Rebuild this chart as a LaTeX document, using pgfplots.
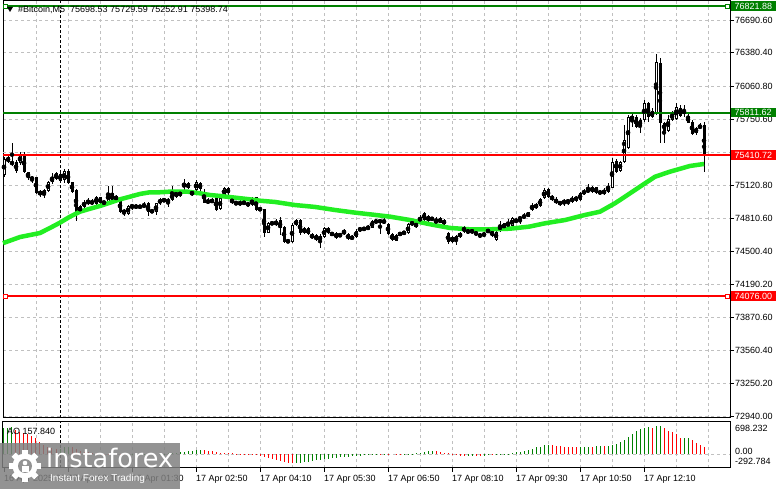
\documentclass[border=0pt]{standalone}
\usepackage{pgfplots}
\pgfplotsset{compat=1.18}
\usepackage{pgfplotstable}
\usepackage{fontspec}
\setmainfont{Liberation Sans}
\newfontfamily\dejavu{DejaVu Sans}
\definecolor{mtgreen}{RGB}{0,128,0}
\definecolor{mtred}{RGB}{255,0,0}
\definecolor{malime}{RGB}{34,238,34}
\definecolor{gridgray}{RGB}{192,192,192}
\definecolor{logogray}{RGB}{147,147,147}
\newcommand{\lbl}{\fontsize{9pt}{10pt}\selectfont}

\pgfplotstableread{
i o h l c
0 75223 75397 75207 75371
1 75349 75403 75333 75390
2 75349 75523 75308 75324
3 75343 75365 75239 75264
4 75333 75444 75317 75412
5 75412 75444 75239 75255
6 75248 75255 75175 75198
7 75207 75213 75144 75175
8 75201 75207 75043 75056
9 75071 75081 75018 75033
10 75033 75087 75002 75081
11 75071 75169 75062 75156
12 75153 75239 75137 75207
13 75182 75255 75175 75239
14 75229 75245 75160 75169
15 75175 75277 75144 75264
16 75264 75277 75137 75144
17 75153 75160 75056 75065
18 75081 75087 74790 74876
19 74876 74938 74860 74929
20 74923 74986 74907 74970
21 74948 75002 74938 74986
22 74976 74992 74938 74948
23 74948 75024 74938 75018
24 74954 75018 74948 75011
25 74970 74980 74938 74954
26 74970 75118 74961 75049
27 75049 75118 74954 74970
28 74986 75033 74980 75024
29 74986 75002 74860 74876
30 74891 74898 74834 74860
31 74853 74938 74844 74929
32 74916 74948 74891 74938
33 74929 74948 74904 74916
34 74919 74938 74907 74926
35 74916 74970 74907 74948
36 74961 74970 74834 74876
37 74885 74898 74860 74876
38 74872 74961 74844 74954
39 74954 75005 74938 74992
40 74980 75002 74970 74989
41 74986 75002 74923 74970
42 74986 75118 74980 75049
43 75065 75074 75002 75018
44 75037 75065 75018 75052
45 75112 75182 75065 75150
46 75150 75160 75087 75097
47 75065 75081 75024 75033
48 75081 75175 75065 75160
49 75150 75160 75074 75087
50 75065 75087 74954 74961
51 74986 75002 74948 74954
52 74961 75002 74954 74992
53 75002 75018 74885 74891
54 74898 75018 74891 75002
55 75033 75112 75018 75097
56 75097 75106 75033 75049
57 74992 75011 74948 74961
58 74948 74980 74938 74961
59 74961 74986 74929 74948
60 74954 74970 74948 74964
61 74961 74970 74923 74929
62 74938 75011 74929 74992
63 75011 75018 74885 74891
64 74907 74916 74885 74891
65 74898 74904 74632 74677
66 74677 74781 74670 74765
67 74762 74781 74749 74771
68 74749 74803 74740 74787
69 74796 74828 74654 74718
70 74733 74740 74581 74591
71 74607 74613 74575 74585
72 74591 74765 74581 74749
73 74749 74803 74740 74796
74 74796 74803 74654 74670
75 74670 74733 74664 74724
76 74718 74727 74654 74664
77 74664 74670 74613 74623
78 74654 74664 74600 74607
79 74607 74664 74528 74645
80 74638 74727 74632 74718
81 74724 74733 74664 74677
82 74677 74686 74645 74654
83 74623 74686 74613 74677
84 74651 74664 74638 74657
85 74702 74708 74651 74664
86 74664 74677 74607 74613
87 74645 74654 74607 74613
88 74632 74708 74623 74692
89 74718 74733 74686 74696
90 74702 74733 74696 74724
91 74711 74749 74702 74733
92 74724 74796 74718 74787
93 74790 74796 74765 74777
94 74796 74803 74664 74774
95 74765 74812 74758 74796
96 74758 74771 74654 74664
97 74661 74670 74600 74607
98 74654 74664 74594 74600
99 74654 74686 74645 74677
100 74664 74696 74654 74686
101 74670 74765 74664 74755
102 74781 74790 74740 74749
103 74733 74781 74718 74765
104 74781 74844 74771 74828
105 74866 74876 74787 74796
106 74834 74844 74777 74787
107 74822 74828 74787 74796
108 74765 74828 74758 74803
109 74812 74822 74765 74771
110 74796 74803 74749 74758
111 74670 74686 74575 74591
112 74638 74645 74581 74591
113 74597 74654 74560 74645
114 74632 74686 74623 74677
115 74733 74740 74677 74686
116 74702 74718 74664 74670
117 74677 74718 74664 74702
118 74686 74696 74645 74654
119 74664 74677 74623 74638
120 74645 74686 74638 74670
121 74677 74718 74670 74708
122 74692 74708 74638 74645
123 74607 74702 74600 74686
124 74696 74787 74686 74749
125 74765 74771 74708 74718
126 74733 74803 74724 74781
127 74740 74822 74733 74812
128 74781 74812 74771 74796
129 74803 74828 74758 74822
130 74812 74860 74803 74844
131 74828 74876 74822 74869
132 74891 74954 74885 74938
133 74907 74961 74898 74948
134 74932 75002 74923 74992
135 75002 75097 74992 75081
136 75087 75097 75002 75018
137 75018 75033 74980 74992
138 74999 75011 74945 74954
139 74970 74980 74932 74945
140 74961 74992 74932 74976
141 74970 74992 74938 74980
142 74970 75024 74954 75008
143 75018 75024 74970 74980
144 74986 75065 74976 75049
145 75043 75087 75033 75074
146 75065 75137 75049 75087
147 75106 75118 75056 75065
148 75106 75112 75043 75056
149 75074 75081 75033 75043
150 75043 75097 75033 75081
151 75065 75150 75056 75118
152 75103 75380 75097 75349
153 75358 75371 75245 75255
154 75264 75358 75255 75346
155 75349 75696 75339 75554
156 75475 75791 75466 75769
157 75750 75800 75680 75781
158 75775 75791 75665 75674
159 75687 75760 75618 75743
160 75743 75933 75727 75907
161 75902 75917 75727 75769
162 75769 75854 75760 75829
163 75807 76369 75791 76296
164 76286 76328 75523 75718
165 75718 75727 75523 75642
166 75642 75791 75633 75756
167 75743 75832 75737 75813
168 75750 75902 75743 75869
169 75854 75886 75769 75781
170 75807 75886 75775 75832
171 75781 75822 75712 75718
172 75727 75743 75601 75608
173 75618 75680 75601 75671
174 75665 75712 75655 75696
175 75698.53 75729.59 75252.91 75398.74
}\candles

\pgfplotstableread{
i v
0 560
1 575
2 580
14 125
15 160
16 170
27 8
32 -15
33 -10
34 -5
35 5
38 0
39 10
40 15
41 20
42 30
43 35
44 45
45 60
46 70
47 75
48 85
49 95
73 -180
74 -175
75 -165
76 -155
77 -145
78 -130
79 -120
80 -105
81 -95
82 -85
83 -75
84 -65
85 -55
86 -50
87 -40
88 -30
89 -25
90 -20
91 -10
92 -5
93 5
95 8
100 -5
101 5
102 15
103 25
104 40
105 55
106 65
107 75
116 -30
117 -25
120 -25
121 -20
123 -15
124 -5
125 5
126 15
127 30
128 45
129 60
130 80
131 100
132 125
133 150
134 170
135 195
136 205
144 160
145 165
146 170
148 172
149 175
151 185
152 210
153 235
154 260
155 310
156 380
157 450
158 505
159 540
160 568
161 585
163 610
164 620
170 355
171 362
}\aoup

\pgfplotstableread{
i v
3 530
4 490
5 455
6 430
7 395
8 345
9 275
10 205
11 165
12 130
13 110
17 150
18 110
19 80
20 60
21 45
22 35
23 25
24 15
25 10
26 5
28 5
29 -5
30 -15
31 -20
36 0
37 -5
50 90
51 75
52 65
53 50
54 40
55 35
56 30
57 20
58 15
59 10
60 5
61 -5
62 -10
63 -20
64 -30
65 -50
66 -80
67 -105
68 -125
69 -145
70 -165
71 -185
72 -190
94 3
96 5
97 0
98 -5
99 -8
108 70
109 55
110 40
111 25
112 5
113 -15
114 -30
115 -35
118 -28
119 -30
122 -22
137 200
138 190
139 175
140 165
141 160
142 158
143 155
147 168
150 172
162 575
165 565
166 505
167 475
168 430
169 350
172 310
173 245
174 200
175 157.84
}\aodown

\begin{document}
\begin{tikzpicture}
\path[use as bounding box] (0pt,0pt) rectangle (781pt,489pt);

% ---------------- price panel ----------------
\begin{axis}[
  at={(3pt,71pt)}, anchor=south west, scale only axis,
  width=727pt, height=417pt,
  xmin=-0.25, xmax=181.5, ymin=72921.1, ymax=76870.5,
  axis line style={black, line width=1pt},
  xtick={8,16,...,176}, xticklabel=\empty, x tick style={draw=none},
  ytick={72940,73250.2,73560.4,73870.6,74190.2,74500.4,74810.6,75120.8,75750.6,76060.8,76380.4,76690.6},
  extra y ticks={75440.6}, extra y tick labels={},
  scaled y ticks=false,
  ytick pos=right, yticklabel pos=right, tick align=outside,
  major tick length=4pt,
  y tick style={black, line width=0.8pt},
  grid=major,
  major grid style={gridgray, dash pattern=on 3pt off 3pt, line width=0.8pt},
  yticklabel style={font=\lbl, inner xsep=1pt,
    /pgf/number format/fixed, /pgf/number format/fixed zerofill,
    /pgf/number format/precision=2, /pgf/number format/1000 sep={},
    /pgf/number format/assume math mode=true},
  clip=false,
]
\addplot[black, dash pattern=on 3pt off 2pt, line width=1pt] coordinates {(14,72921.1) (14,76870.5)};
\addplot[only marks, mark=none, error bars/.cd, y dir=both, y explicit, error mark=none,
  error bar style={black, line width=1pt}]
  table[x=i, y expr={(\thisrow{h}+\thisrow{l})/2}, y error expr={(\thisrow{h}-\thisrow{l})/2}] {\candles};
\addplot[only marks, mark=none, error bars/.cd, y dir=both, y explicit, error mark=none,
  error bar style={black, line width=3pt}]
  table[x=i, y expr={(\thisrow{o}+\thisrow{c})/2}, y error expr={max(abs(\thisrow{o}-\thisrow{c})/2,5)}] {\candles};
\addplot[only marks, mark=none, error bars/.cd, y dir=both, y explicit, error mark=none,
  error bar style={white, line width=1pt}]
  table[x=i, y expr={(\thisrow{o}+\thisrow{c})/2}, y error expr={max((\thisrow{c}-\thisrow{o})/2-9.5,0)}] {\candles};
\addplot[malime, line width=4.5pt, line join=round] coordinates {
(-0.25,74577) (4,74635) (9,74673) (11.5,74721) (14,74771) (16.5,74828) (19,74875) (21.5,74903)
(24,74929) (26.5,74960) (29,74992) (31.5,75017) (34,75043) (36.5,75059) (39,75059) (42,75066)
(46,75064) (49,75049) (51.5,75033) (54,75024) (57.75,75008) (61.5,74992) (64,74979) (67.75,74967)
(72.75,74938) (77.75,74920) (82.75,74891) (87.75,74866) (91.5,74850) (96.5,74828) (101.5,74796)
(106.5,74756) (111.5,74721) (116.5,74708) (121.5,74708) (126.5,74714) (131.25,74733) (135.25,74765)
(140.25,74796) (145.25,74844) (149,74875) (152.75,74955) (155.25,75017) (159,75112) (162.75,75206)
(166.5,75254) (171.5,75308) (175,75327)};
\addplot[mtgreen, line width=2pt] coordinates {(-0.25,76821.88) (181.5,76821.88)};
\addplot[mtgreen, line width=2pt] coordinates {(-0.25,75811.62) (181.5,75811.62)};
\addplot[mtred, line width=2pt] coordinates {(-0.25,75410.72) (181.5,75410.72)};
\addplot[mtred, line width=2pt] coordinates {(-0.25,74076.00) (181.5,74076.00)};
\addplot[only marks, mark=square*, mark size=2pt, mark options={draw=mtgreen, fill=white, line width=1pt}]
  coordinates {(0.25,76821.88) (180.75,76821.88)};
\addplot[only marks, mark=square*, mark size=2pt, mark options={draw=mtred, fill=white, line width=1pt}]
  coordinates {(0.25,74076.00) (180.75,74076.00)};
\coordinate (L1) at (axis cs:181.5,76821.88);
\coordinate (L2) at (axis cs:181.5,75811.62);
\coordinate (L3) at (axis cs:181.5,75410.72);
\coordinate (L4) at (axis cs:181.5,74076.00);
\end{axis}

\foreach \p/\t/\c in {L1/76821.88/mtgreen, L2/75811.62/mtgreen, L3/75410.72/mtred, L4/74076.00/mtred}{
  \node[anchor=west, fill=\c, text=white, font=\lbl, inner xsep=4pt, inner ysep=1.5pt, xshift=0.5pt] at (\p) {\t};
}

% ---------------- AO panel ----------------
\begin{axis}[
  at={(3pt,21pt)}, anchor=south west, scale only axis,
  width=727pt, height=46pt,
  xmin=-0.25, xmax=181.5, ymin=-292.784, ymax=698.232,
  axis line style={black, line width=1pt},
  xtick={0,16,...,160},
  xticklabels={16 Apr 2025 22:50, 17 Apr 00:10, 17 Apr 01:30, 17 Apr 02:50, 17 Apr 04:10, 17 Apr 05:30, 17 Apr 06:50, 17 Apr 08:10, 17 Apr 09:30, 17 Apr 10:50, 17 Apr 12:10},
  minor xtick={8,16,...,176},
  xtick pos=bottom, tick align=outside, major tick length=4pt, minor tick length=0pt,
  x tick style={black, line width=0.8pt},
  xticklabel style={font=\lbl, anchor=north west, inner xsep=0pt},
  ytick={0}, yticklabels={}, y tick style={draw=none},
  xmajorgrids=false, xminorgrids=true, ymajorgrids=true,
  major grid style={gridgray, dash pattern=on 3pt off 3pt, line width=0.8pt},
  minor grid style={gridgray, dash pattern=on 3pt off 3pt, line width=0.8pt},
  clip=false,
]
\addplot[black, dash pattern=on 3pt off 2pt, line width=1pt] coordinates {(14,-292.784) (14,698.232)};
\addplot[ycomb, mtgreen, line width=1pt, mark=none] table[x=i, y=v] {\aoup};
\addplot[ycomb, mtred, line width=1pt, mark=none] table[x=i, y=v] {\aodown};
\end{axis}

% texts
\fill[black] (7pt,482pt) -- (13pt,482pt) -- (10pt,477pt) -- cycle;
\node[anchor=west, font=\lbl, inner sep=0pt] at (18pt,479.5pt) {\#Bitcoin,M5\ \ 75698.53 75729.59 75252.91 75398.74};
\node[anchor=west, font=\lbl, inner sep=0pt] at (7pt,58pt) {AO 157.840};
\node[anchor=west, font=\lbl, inner sep=0pt] at (735pt,61pt) {698.232};
\node[anchor=west, font=\lbl, inner sep=0pt] at (735pt,37.5pt) {0.00};
\node[anchor=west, font=\lbl, inner sep=0pt] at (735pt,28pt) {-292.784};

% logo overlay
\fill[black!50, fill opacity=0.85] (0pt,0pt) rectangle (180pt,46pt);
\fill[white] (25pt,23pt) circle (12.5pt);
\foreach \a in {0,45,...,315}{
  \fill[white, rotate around={\a:(25pt,23pt)}] (22pt,33pt) rectangle (28pt,39pt);
}
\fill[logogray] (25pt,23pt) circle (7pt);
\fill[white] (25pt,26pt) circle (2.3pt);
\fill[white] (21.5pt,17pt) rectangle (28.5pt,22.5pt);
\node[anchor=base west, text=white, inner sep=0pt, font=\fontsize{25.5pt}{25.5pt}\selectfont\dejavu] at (46pt,21pt) {instaforex};
\node[anchor=base west, text=white, inner sep=0pt, font=\fontsize{10pt}{10pt}\selectfont] at (50pt,7pt) {Instant Forex Trading};
\end{tikzpicture}
\end{document}
